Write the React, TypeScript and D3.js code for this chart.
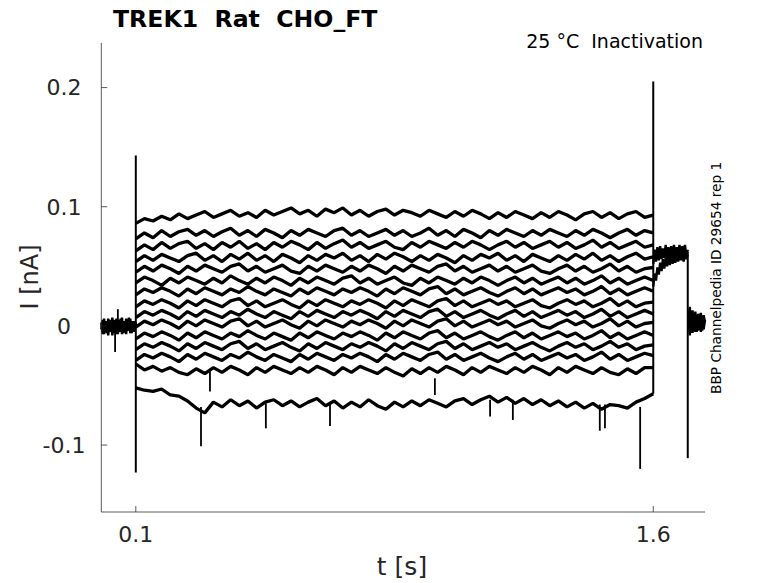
import React from 'react';
import * as d3 from 'd3';

const W = 778;
const H = 583;
const plot = { left: 101.3, right: 705, top: 43, bottom: 512 };

const xDomain: [number, number] = [0, 1.75];
const yDomain: [number, number] = [-0.1562, 0.2374];
const xTicks = [0.1, 1.6];
const xTickLabels = ['0.1', '1.6'];
const yTicks = [-0.1, 0, 0.1, 0.2];
const yTickLabels = ['-0.1', '0', '0.1', '0.2'];

// segment boundaries (s)
const holdSpan: [number, number] = [0, 0.1];
const stepSpan: [number, number] = [0.1, 1.6];
const tailSpan: [number, number] = [1.6, 1.7];
const postSpan: [number, number] = [1.702, 1.75];

const trace01 = [86, 90, 88, 92, 89, 94, 90, 93, 96, 91, 94, 97, 92, 95, 91, 97, 93, 96, 99, 94, 97, 92, 98, 95, 99, 93, 97, 92, 96, 98, 93, 97, 95, 92, 97, 94, 91, 96, 92, 97, 94, 90, 95, 91, 96, 93, 90, 95, 91, 96, 93, 89, 94, 96, 91, 95, 90, 94, 96, 91, 93];
const trace02 = [73, 78, 74, 80, 75, 79, 81, 76, 80, 75, 79, 82, 76, 80, 75, 81, 78, 74, 80, 76, 81, 78, 75, 80, 82, 76, 80, 75, 78, 81, 76, 80, 75, 78, 82, 76, 80, 75, 81, 78, 74, 80, 76, 81, 78, 75, 80, 76, 81, 78, 75, 80, 76, 81, 78, 74, 78, 81, 76, 80, 78];
const trace03 = [63, 68, 64, 70, 65, 69, 71, 65, 69, 64, 70, 66, 71, 65, 69, 64, 70, 66, 71, 68, 64, 70, 65, 69, 72, 66, 70, 65, 68, 71, 66, 64, 70, 66, 71, 68, 65, 70, 66, 71, 68, 64, 68, 71, 66, 70, 65, 68, 71, 66, 70, 65, 68, 72, 66, 70, 65, 68, 71, 66, 68];
const trace04 = [54, 59, 55, 60, 57, 54, 59, 61, 55, 59, 54, 60, 56, 61, 55, 59, 54, 60, 57, 53, 59, 55, 60, 57, 61, 55, 59, 54, 60, 56, 61, 58, 54, 59, 55, 60, 57, 53, 59, 55, 60, 57, 61, 55, 59, 54, 60, 57, 54, 59, 55, 60, 56, 61, 55, 59, 54, 58, 61, 56, 58];
const trace05 = [45, 50, 46, 51, 48, 44, 50, 46, 51, 48, 45, 50, 52, 46, 50, 45, 48, 51, 46, 44, 50, 46, 51, 48, 45, 50, 46, 51, 48, 44, 50, 46, 51, 48, 45, 50, 52, 46, 50, 45, 48, 51, 46, 50, 45, 48, 51, 46, 44, 48, 51, 46, 50, 45, 48, 52, 46, 50, 45, 48, 49];
const trace06 = [36, 41, 38, 34, 40, 36, 41, 38, 35, 40, 36, 42, 38, 35, 40, 36, 41, 38, 34, 40, 36, 41, 38, 35, 40, 42, 36, 40, 35, 38, 41, 36, 34, 40, 36, 41, 38, 35, 40, 36, 41, 38, 34, 38, 41, 36, 40, 35, 38, 41, 36, 40, 35, 38, 42, 36, 40, 35, 38, 41, 38];
const trace07 = [26, 31, 28, 32, 29, 25, 31, 27, 32, 29, 26, 31, 28, 33, 29, 26, 31, 28, 25, 31, 27, 32, 29, 26, 31, 28, 32, 29, 25, 31, 27, 32, 29, 26, 31, 33, 27, 31, 26, 29, 32, 28, 25, 29, 32, 27, 31, 26, 29, 32, 28, 31, 26, 29, 33, 27, 31, 26, 29, 32, 29];
const trace08 = [16, 21, 18, 22, 19, 15, 21, 17, 22, 19, 16, 21, 23, 17, 21, 16, 19, 22, 18, 15, 21, 17, 22, 19, 16, 21, 18, 22, 19, 15, 21, 17, 22, 19, 16, 21, 23, 17, 21, 16, 19, 22, 18, 21, 16, 19, 22, 17, 15, 19, 22, 18, 21, 16, 19, 23, 17, 21, 16, 19, 20];
const trace09 = [7, 12, 9, 13, 10, 6, 12, 8, 13, 10, 7, 12, 9, 14, 10, 7, 12, 9, 6, 12, 8, 13, 10, 7, 12, 9, 13, 10, 6, 12, 8, 13, 10, 7, 12, 14, 8, 12, 7, 10, 13, 9, 6, 10, 13, 8, 12, 7, 10, 13, 9, 12, 7, 10, 14, 8, 12, 7, 10, 13, 10];
const trace10 = [-1, 4, 1, 5, 2, -2, 4, 0, 5, 2, -1, 4, 6, 0, 4, -1, 2, 5, 1, -2, 4, 0, 5, 2, -1, 4, 1, 5, 2, -2, 4, 0, 5, 2, -1, 4, 6, 0, 4, -1, 2, 5, 1, 4, -1, 2, 5, 0, -2, 2, 5, 1, 4, -1, 2, 6, 0, 4, -1, 2, 3];
const trace11 = [-11, -6, -9, -5, -8, -12, -6, -10, -5, -8, -11, -6, -9, -4, -8, -11, -6, -9, -12, -6, -10, -5, -8, -11, -6, -9, -5, -8, -12, -6, -10, -5, -8, -11, -6, -4, -10, -6, -11, -8, -5, -9, -12, -8, -5, -10, -6, -11, -8, -5, -9, -6, -11, -8, -4, -10, -6, -11, -8, -5, -8];
const trace12 = [-20, -15, -18, -14, -17, -21, -15, -19, -14, -17, -20, -15, -13, -19, -15, -20, -17, -14, -18, -21, -15, -19, -14, -17, -20, -15, -18, -14, -17, -21, -15, -19, -14, -17, -20, -15, -13, -19, -15, -20, -17, -14, -18, -15, -20, -17, -14, -18, -21, -17, -14, -18, -15, -20, -17, -13, -18, -15, -20, -17, -16];
const trace13 = [-29, -24, -27, -23, -26, -30, -24, -28, -23, -26, -29, -24, -27, -22, -26, -29, -24, -27, -30, -24, -28, -23, -26, -29, -24, -27, -23, -26, -30, -24, -28, -23, -26, -29, -24, -22, -28, -24, -29, -26, -23, -27, -30, -26, -23, -28, -24, -29, -26, -23, -27, -24, -29, -26, -22, -28, -24, -29, -26, -23, -25];
const trace14 = [-32, -37, -34, -38, -35, -39, -41, -36, -40, -35, -39, -34, -37, -41, -35, -39, -34, -37, -40, -35, -39, -34, -37, -41, -35, -39, -34, -37, -40, -35, -39, -42, -36, -40, -35, -39, -34, -37, -41, -35, -39, -34, -37, -40, -35, -39, -34, -37, -41, -35, -39, -34, -37, -40, -35, -39, -41, -36, -40, -35, -35];
const trace15 = [-52, -54, -55, -53, -58, -59, -63, -69, -73, -64, -68, -62, -67, -63, -69, -64, -62, -67, -63, -68, -64, -61, -67, -63, -69, -64, -68, -62, -67, -70, -64, -68, -63, -67, -62, -65, -68, -63, -61, -66, -62, -59, -64, -60, -65, -61, -66, -62, -67, -63, -68, -64, -69, -65, -70, -66, -67, -69, -64, -61, -57];
const stepTraces = [trace01, trace02, trace03, trace04, trace05, trace06, trace07, trace08, trace09, trace10, trace11, trace12, trace13, trace14, trace15];

// holding before the step (pA)
const holdA = [-3, 5, -7, 4, -6, 6, -5, 3, -8, 5, -4, 6, -7, 4, -5, 7, -6, 3, -7, 5, -4, 6, -6, 4, -5, 3];
const holdB = [3, -7, 6, -5, 4, -8, 5, -4, 7, -6, 3, -7, 5, -3, 6, -7, 4, -5, 6, -4, 7, -6, 3, -5, 4, -2];
// tail after the step (pA)
const tailA = [52, 64, 54, 66, 55, 67, 56, 65, 57, 68, 56, 66, 58, 67, 57, 68, 58, 66, 59, 68, 58, 67, 59, 68, 58, 64];
const tailB = [33, 44, 38, 49, 43, 53, 46, 56, 48, 57, 50, 58, 51, 60, 52, 59, 53, 61, 54, 60, 55, 62, 54, 61, 56, 60];
// return to holding (pA)
const postA = [-4, 16, -6, 13, -4, 12, -5, 10, -3, 11, -4, 9, 3];
const postB = [14, -8, 12, -6, 10, -5, 9, -4, 10, -5, 8, -3, 5];

// capacitive transients (s, pA)
const transients = [
  { t: 0.1, lo: -123, hi: 143 },
  { t: 1.6, lo: -57, hi: 205 },
  { t: 1.7, lo: -111, hi: 62 },
];
// brief downward/upward excursions (s, pA)
const glitches = [
  { t: 0.04, lo: -22, hi: 2 },
  { t: 0.048, lo: -3, hi: 14 },
  { t: 0.289, lo: -101, hi: -68 },
  { t: 0.315, lo: -55, hi: -38 },
  { t: 0.477, lo: -86, hi: -65 },
  { t: 0.663, lo: -84, hi: -65 },
  { t: 0.967, lo: -58, hi: -44 },
  { t: 1.127, lo: -76, hi: -62 },
  { t: 1.193, lo: -79, hi: -62 },
  { t: 1.445, lo: -88, hi: -66 },
  { t: 1.46, lo: -86, hi: -66 },
  { t: 1.562, lo: -120, hi: -68 },
];

const title = 'TREK1  Rat  CHO_FT';
const condition = '25 °C  Inactivation';
const sideNote = 'BBP Channelpedia ID 29654 rep 1';
const xLabel = 't [s]';
const yLabel = 'I [nA]';

const FONT = '"DejaVu Sans", Verdana, sans-serif';
const AXIS = '#262626';

export default function App() {
  const x = d3.scaleLinear().domain(xDomain).range([plot.left, plot.right]);
  const y = d3.scaleLinear().domain(yDomain).range([plot.bottom, plot.top]);

  const toPoints = (vals: number[], span: [number, number]) =>
    vals.map((v, i) => [span[0] + (i * (span[1] - span[0])) / (vals.length - 1), v / 1000] as [number, number]);

  const line = d3
    .line<[number, number]>()
    .x((d) => x(d[0]))
    .y((d) => y(d[1]));

  const segments: { vals: number[]; span: [number, number]; w: number }[] = [
    { vals: holdA, span: holdSpan, w: 2.4 },
    { vals: holdB, span: holdSpan, w: 2.4 },
    ...stepTraces.map((vals) => ({ vals, span: stepSpan, w: 3.3 })),
    { vals: tailA, span: tailSpan, w: 2.4 },
    { vals: tailB, span: tailSpan, w: 2.4 },
    { vals: postA, span: postSpan, w: 2.4 },
    { vals: postB, span: postSpan, w: 2.4 },
  ];

  return (
    <svg
      width={W}
      height={H}
      style={{ position: 'absolute', left: 0, top: 0, background: '#fff' }}
      fontFamily={FONT}
    >
      <rect x={0} y={0} width={W} height={H} fill="#fff" />
      <g>
        {segments.map((s, i) => (
          <path key={i} d={line(toPoints(s.vals, s.span)) || ''} fill="none" stroke="#000" strokeWidth={s.w} strokeLinejoin="bevel" />
        ))}
        {transients.map((s, i) => (
          <line key={'tr' + i} x1={x(s.t)} x2={x(s.t)} y1={y(s.lo / 1000)} y2={y(s.hi / 1000)} stroke="#000" strokeWidth={2} />
        ))}
        {glitches.map((s, i) => (
          <line key={'gl' + i} x1={x(s.t)} x2={x(s.t)} y1={y(s.lo / 1000)} y2={y(s.hi / 1000)} stroke="#000" strokeWidth={1.8} />
        ))}
      </g>
      {/* axes */}
      <line x1={plot.left} x2={plot.left} y1={plot.top} y2={plot.bottom} stroke={AXIS} strokeOpacity={0.75} strokeWidth={1} />
      <line x1={plot.left} x2={plot.right} y1={plot.bottom} y2={plot.bottom} stroke={AXIS} strokeOpacity={0.75} strokeWidth={1} />
      {yTicks.map((t, i) => (
        <g key={'yt' + i}>
          <line x1={plot.left} x2={plot.left + 6} y1={y(t)} y2={y(t)} stroke={AXIS} strokeOpacity={0.75} />
          <text x={64} y={y(t)} dy="0.36em" textAnchor="middle" fontSize={22} fill={AXIS}>
            {yTickLabels[i]}
          </text>
        </g>
      ))}
      {xTicks.map((t, i) => (
        <g key={'xt' + i}>
          <line x1={x(t)} x2={x(t)} y1={plot.bottom} y2={plot.bottom - 6} stroke={AXIS} strokeOpacity={0.75} />
          <text x={x(t)} y={542} textAnchor="middle" fontSize={22} fill={AXIS}>
            {xTickLabels[i]}
          </text>
        </g>
      ))}
      <text x={402} y={575} textAnchor="middle" fontSize={25} fill={AXIS}>
        {xLabel}
      </text>
      <text transform="translate(38,277) rotate(-90)" textAnchor="middle" fontSize={24} fill={AXIS}>
        {yLabel}
      </text>
      <text x={113} y={27} fontSize={23.6} fontWeight="bold" fill="#000" style={{ whiteSpace: 'pre' }}>
        {title}
      </text>
      <text x={703} y={48} textAnchor="end" fontSize={19} fill="#000" style={{ whiteSpace: 'pre' }}>
        {condition}
      </text>
      <text transform="translate(721,394) rotate(-90)" fontSize={13.7} fill="#000">
        {sideNote}
      </text>
    </svg>
  );
}
